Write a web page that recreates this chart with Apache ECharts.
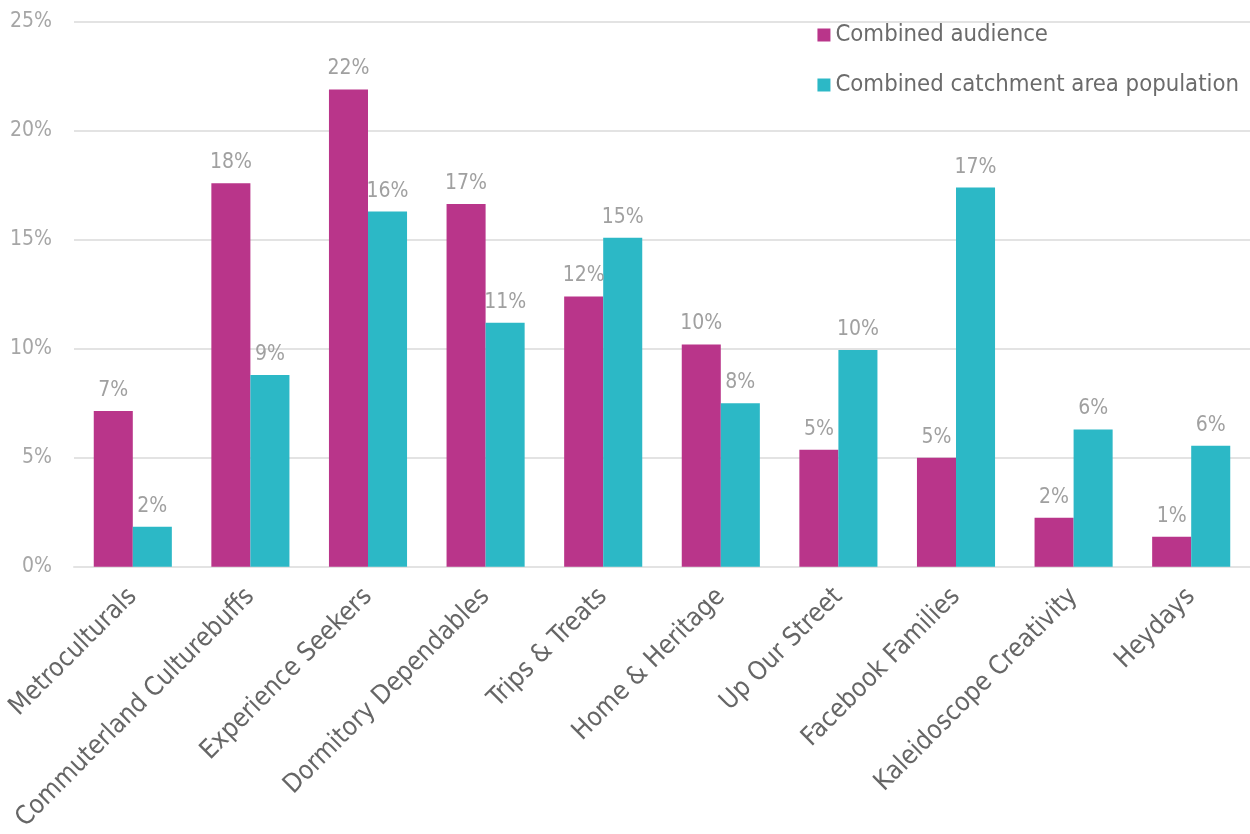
<!DOCTYPE html>
<html>
<head>
<meta charset="utf-8">
<script src="https://cdn.jsdelivr.net/npm/echarts@6/dist/echarts.min.js"></script>
<style>
  html, body { margin: 0; padding: 0; background: #ffffff; }
  #chart { width: 1250px; height: 834px; }
</style>
</head>
<body>
<div id="chart"></div>
<script>
// Audience segments
const categories = [
  'Metroculturals', 'Commuterland Culturebuffs', 'Experience Seekers',
  'Dormitory Dependables', 'Trips & Treats', 'Home & Heritage',
  'Up Our Street', 'Facebook Families', 'Kaleidoscope Creativity', 'Heydays'
];
// Share of each segment, in percent
const audience = [7.15, 17.6, 21.9, 16.65, 12.4, 10.2, 5.37, 5.0, 2.25, 1.38];
const catchment = [1.83, 8.8, 16.3, 11.2, 15.1, 7.5, 9.95, 17.4, 6.3, 5.55];
const seriesNames = ['Combined audience', 'Combined catchment area population'];
const yTicks = [0, 5, 10, 15, 20, 25];

const FONT = '"DejaVu Sans Condensed", Lato, "DejaVu Sans", sans-serif';
const chart = echarts.init(document.getElementById('chart'));

const labelCfg = {
  show: true,
  position: 'top',
  distance: 10,
  color: '#a0a0a0',
  fontFamily: FONT,
  fontSize: 21,
  formatter: p => Math.round(p.value) + '%'
};

chart.setOption({
  animation: false,
  textStyle: { fontFamily: FONT },
  grid: { left: 74, right: 0, top: 22, bottom: 267, containLabel: false },
  legend: {
    orient: 'vertical',
    right: 6,
    top: 18,
    itemWidth: 13,
    itemHeight: 13,
    itemGap: 26,
    icon: 'rect',
    textStyle: { color: '#6b6b6b', fontSize: 23.7, fontFamily: FONT },
    data: seriesNames
  },
  xAxis: {
    type: 'category',
    data: categories,
    axisLine: { show: true, lineStyle: { color: '#e3e3e3', width: 2 } },
    axisTick: { show: false },
    axisLabel: {
      interval: 0,
      rotate: 45,
      margin: 26,
      color: '#666666',
      fontSize: 26,
      fontFamily: FONT
    }
  },
  yAxis: {
    type: 'value',
    min: yTicks[0],
    max: yTicks[yTicks.length - 1],
    interval: 5,
    axisLine: { show: false },
    axisTick: { show: false },
    splitLine: { lineStyle: { color: '#e3e3e3', width: 2 } },
    axisLabel: {
      margin: 22,
      color: '#a6a6a6',
      fontSize: 21,
      fontFamily: FONT,
      formatter: v => v + '%'
    }
  },
  series: [
    {
      name: seriesNames[0],
      type: 'bar',
      data: audience,
      barGap: '0%',
      barCategoryGap: '33.6%',
      itemStyle: { color: '#b9358a' },
      label: labelCfg
    },
    {
      name: seriesNames[1],
      type: 'bar',
      data: catchment,
      barGap: '0%',
      barCategoryGap: '33.6%',
      itemStyle: { color: '#2cb8c6' },
      label: labelCfg
    }
  ]
});
</script>
</body>
</html>
